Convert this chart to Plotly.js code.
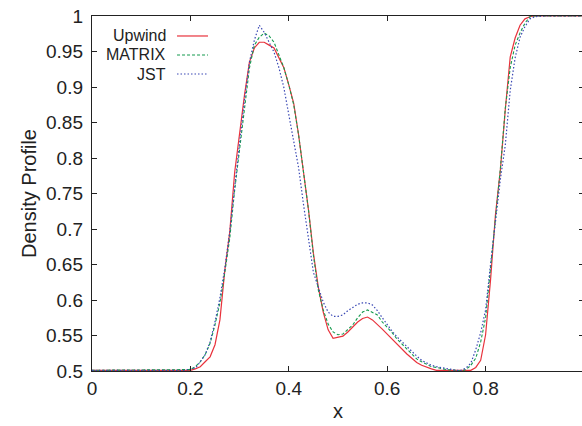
<!DOCTYPE html>
<html>
<head>
<meta charset="utf-8">
<script src="https://cdn.plot.ly/plotly-3.0.1.min.js"></script>
<style>
html,body{margin:0;padding:0;overflow:hidden;background:#fff;}
#chart{width:585px;height:426px;}
</style>
</head>
<body>
<div id="chart"></div>
<script>
// x positions of samples
var xVals = [0, 0.19, 0.20, 0.21, 0.22, 0.23, 0.24, 0.25, 0.26, 0.27, 0.28, 0.29,
  0.30, 0.31, 0.32, 0.33, 0.34, 0.35, 0.36, 0.37, 0.38, 0.39,
  0.40, 0.41, 0.42, 0.43, 0.44, 0.45, 0.46, 0.47, 0.48, 0.49,
  0.50, 0.51, 0.52, 0.53, 0.54, 0.55, 0.56, 0.57, 0.58, 0.59,
  0.60, 0.61, 0.62, 0.63, 0.64, 0.65, 0.66, 0.67, 0.68, 0.69,
  0.70, 0.72, 0.74, 0.75, 0.76, 0.77, 0.78, 0.79,
  0.80, 0.81, 0.82, 0.83, 0.84, 0.85, 0.86, 0.87, 0.88, 0.89,
  0.90, 0.92, 1.00];

var upwind = [0.501, 0.501, 0.501, 0.503, 0.506, 0.513, 0.520, 0.537, 0.572, 0.642, 0.696, 0.780,
  0.839, 0.889, 0.935, 0.955, 0.963, 0.963, 0.959, 0.955, 0.941, 0.927,
  0.903, 0.877, 0.832, 0.783, 0.727, 0.666, 0.618, 0.583, 0.558, 0.546,
  0.547, 0.549, 0.555, 0.562, 0.569, 0.574, 0.576, 0.572, 0.566, 0.559,
  0.552, 0.545, 0.538, 0.530, 0.524, 0.518, 0.512, 0.508, 0.505, 0.503,
  0.501, 0.501, 0.500, 0.500, 0.500, 0.501, 0.505, 0.515,
  0.551, 0.628, 0.720, 0.783, 0.868, 0.942, 0.969, 0.987, 0.996, 0.999,
  1.000, 1.000, 1.000];

var matrix = [0.501, 0.501, 0.502, 0.506, 0.513, 0.523, 0.539, 0.565, 0.596, 0.639, 0.687, 0.755,
  0.811, 0.870, 0.927, 0.959, 0.970, 0.976, 0.972, 0.963, 0.945, 0.927,
  0.903, 0.875, 0.832, 0.783, 0.727, 0.663, 0.614, 0.586, 0.566, 0.555,
  0.551, 0.552, 0.558, 0.565, 0.575, 0.583, 0.586, 0.583, 0.579, 0.569,
  0.562, 0.554, 0.545, 0.538, 0.530, 0.523, 0.517, 0.513, 0.509, 0.506,
  0.505, 0.502, 0.501, 0.500, 0.502, 0.508, 0.518, 0.541,
  0.575, 0.642, 0.715, 0.785, 0.870, 0.927, 0.959, 0.976, 0.990, 0.999,
  1.000, 1.000, 1.000];

var jst = [0.501, 0.501, 0.503, 0.504, 0.513, 0.523, 0.541, 0.569, 0.603, 0.645, 0.696, 0.762,
  0.821, 0.882, 0.935, 0.966, 0.987, 0.977, 0.963, 0.949, 0.927, 0.899,
  0.861, 0.821, 0.786, 0.734, 0.689, 0.639, 0.618, 0.597, 0.583, 0.577,
  0.577, 0.579, 0.585, 0.590, 0.594, 0.596, 0.596, 0.593, 0.585, 0.575,
  0.565, 0.556, 0.548, 0.541, 0.534, 0.527, 0.521, 0.515, 0.511, 0.508,
  0.506, 0.503, 0.501, 0.501, 0.504, 0.511, 0.530, 0.554,
  0.586, 0.650, 0.712, 0.770, 0.818, 0.895, 0.941, 0.970, 0.985, 0.996,
  0.999, 1.000, 1.000];

var seriesNames = ['Upwind', 'MATRIX', 'JST'];
var xTickVals = [0, 0.2, 0.4, 0.6, 0.8, 1];
var xTickText = ['0', '0.2', '0.4', '0.6', '0.8', '1'];
var yTickVals = [0.5, 0.55, 0.6, 0.65, 0.7, 0.75, 0.8, 0.85, 0.9, 0.95, 1];
var yTickText = ['0.5', '0.55', '0.6', '0.65', '0.7', '0.75', '0.8', '0.85', '0.9', '0.95', '1'];

var colors = ['#e8323c', '#159a4e', '#3a48b4'];
var dashes = ['solid', '3px,2px', '1.5px,2px'];
var widths = [1.2, 1.1, 1.2];
var ys = [upwind, matrix, jst];

var traces = ys.map(function (y, i) {
  return {
    x: xVals, y: y, type: 'scatter', mode: 'lines', name: seriesNames[i],
    line: {color: colors[i], width: widths[i], dash: dashes[i]},
    showlegend: false, hoverinfo: 'skip'
  };
});

// legend in gnuplot style: text on the left, sample line on the right
var legX = 0.1545, legL0 = 0.1728, legL1 = 0.2358;
var legY = [0.9437, 0.8902, 0.8366];
var annotations = [], shapes = [];
seriesNames.forEach(function (n, i) {
  annotations.push({xref: 'paper', yref: 'paper', x: legX, y: legY[i], text: n,
    showarrow: false, xanchor: 'right', yanchor: 'middle',
    font: {family: 'Liberation Sans, Arial, sans-serif', size: 16, color: '#222'}});
  shapes.push({type: 'line', xref: 'paper', yref: 'paper', x0: legL0, x1: legL1,
    y0: legY[i], y1: legY[i], line: {color: colors[i], width: widths[i], dash: dashes[i]}});
});

var tickFont = {family: 'Liberation Sans, Arial, sans-serif', size: 19, color: '#222'};
var layout = {
  width: 585, height: 426,
  margin: {l: 92, r: 1, t: 16, b: 55},
  paper_bgcolor: '#fff', plot_bgcolor: '#fff',
  showlegend: false,
  xaxis: {
    range: [0, 1], tickvals: xTickVals, ticktext: xTickText,
    ticks: 'inside', ticklen: 5, tickcolor: '#222', tickwidth: 1,
    showline: true, linecolor: '#222', linewidth: 1.2, mirror: 'ticks',
    showgrid: false, zeroline: false, tickfont: tickFont,
    title: {text: 'x', font: {family: 'Liberation Sans, Arial, sans-serif', size: 20, color: '#222'}, standoff: 6}
  },
  yaxis: {
    range: [0.5, 1], tickvals: yTickVals, ticktext: yTickText,
    ticks: 'inside', ticklen: 5, tickcolor: '#222', tickwidth: 1,
    showline: true, linecolor: '#222', linewidth: 1.2, mirror: 'ticks',
    showgrid: false, zeroline: false, tickfont: tickFont, ticklabelstandoff: 4,
    title: {text: 'Density Profile', font: {family: 'Liberation Sans, Arial, sans-serif', size: 20, color: '#222'}, standoff: 4}
  },
  annotations: annotations,
  shapes: shapes
};

Plotly.newPlot('chart', traces, layout, {staticPlot: true, displayModeBar: false});
</script>
</body>
</html>
